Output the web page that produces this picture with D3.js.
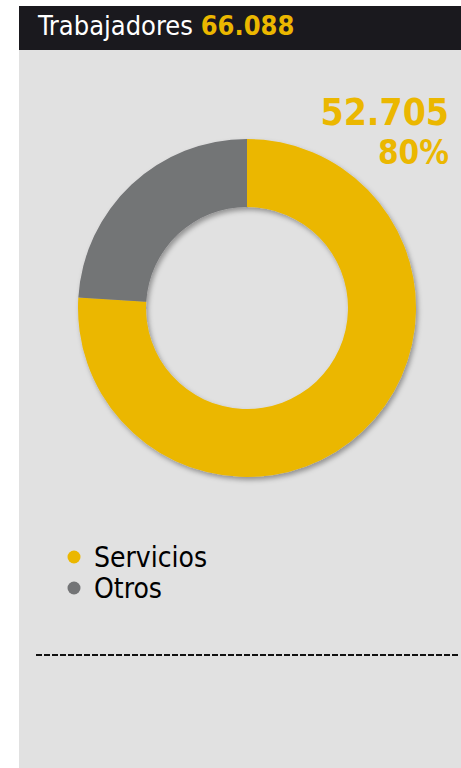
<html>
<head>
  <script src="https://d3js.org/d3.v7.min.js"></script>
  <style>
    body { margin: 0; background: #fff; }
    text { font-family: "DejaVu Sans Condensed", "DejaVu Sans", sans-serif; font-stretch: condensed; }
  </style>
</head>
<body>
  <svg id="p" width="461" height="768"></svg>
  <script>
    // values
    const title = "Trabajadores";
    const total = "66.088";
    const categories = ["Servicios", "Otros"];
    const shares = [76, 24];          // slice sizes as drawn
    const highlightValue = "52.705";
    const highlightPct = "80%";
    const colors = ["#ebb700", "#737476"];

    const svg = d3.select("svg#p");
    const cx = 247, cy = 308;
    const outerR = 169, innerR = 101;

    // background panel + header
    svg.append("rect").attr("x", 19).attr("y", 50).attr("width", 442).attr("height", 718).attr("fill", "#e1e1e1");
    svg.append("rect").attr("x", 19).attr("y", 6).attr("width", 442).attr("height", 44).attr("fill", "#1a191e");

    const head = svg.append("text").attr("x", 38).attr("y", 35).style("font-size", "27px");
    head.append("tspan").attr("fill", "#fff").text(title + " ");
    head.append("tspan").attr("fill", colors[0]).attr("font-weight", "bold").text(total);

    // drop shadow
    const defs = svg.append("defs");
    defs.append("filter").attr("id", "shadow")
        .attr("x", "-20%").attr("y", "-20%").attr("width", "140%").attr("height", "140%")
      .append("feDropShadow")
        .attr("dx", 2).attr("dy", 3).attr("stdDeviation", 2.5)
        .attr("flood-color", "#000").attr("flood-opacity", 0.35);

    const pie = d3.pie().sort(null).value(d => d);
    const arc = d3.arc().innerRadius(innerR).outerRadius(outerR);
    const color = d3.scaleOrdinal().domain(categories).range(colors);

    const chart = svg.append("g")
        .attr("transform", "translate(" + cx + "," + cy + ")")
        .attr("filter", "url(#shadow)");
    chart.selectAll("path").data(pie(shares))
      .join("path")
        .attr("d", arc)
        .attr("fill", (d, i) => color(categories[i]));

    // highlight labels
    svg.append("text").attr("x", 449).attr("y", 125)
        .attr("text-anchor", "end").attr("font-weight", "bold")
        .attr("fill", colors[0]).style("font-size", "37px").text(highlightValue);
    svg.append("text").attr("x", 449).attr("y", 164)
        .attr("text-anchor", "end").attr("font-weight", "bold")
        .attr("fill", colors[0]).style("font-size", "33px").text(highlightPct);

    // legend
    const legend = svg.append("g");
    const items = legend.selectAll("g").data(categories).join("g")
        .attr("transform", (d, i) => "translate(74," + (557 + i * 31) + ")");
    items.append("circle").attr("r", 6.5).attr("fill", d => color(d));
    items.append("text").attr("x", 20).attr("y", 9.5)
        .style("font-size", "28px").attr("fill", "#000").text(d => d);

    // dashed separator
    svg.append("line")
        .attr("x1", 36).attr("x2", 459).attr("y1", 655).attr("y2", 655)
        .attr("stroke", "#111").attr("stroke-width", 2)
        .attr("stroke-dasharray", "6,2");
  </script>
</body>
</html>
